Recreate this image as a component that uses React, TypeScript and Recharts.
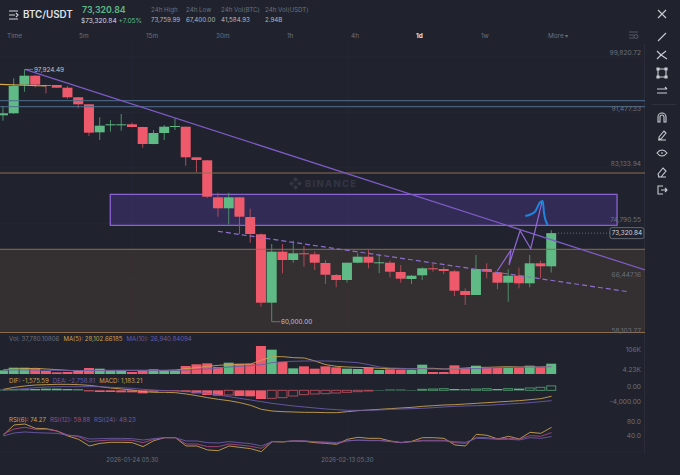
import React from "react"
import {
  Bar,
  CartesianGrid,
  Cell,
  ComposedChart,
  Line,
  ReferenceArea,
  ReferenceDot,
  ReferenceLine,
  XAxis,
  YAxis,
} from "recharts"

// candles, oldest first
const opens = [91029, 91329, 95628, 96980, 95583, 95583, 95177, 93734, 92682, 88473, 89525, 89570, 89676, 89270, 86715, 88368, 89315, 89315, 84716, 84265, 78704, 77050, 78704, 75743, 73143, 62863, 70527, 69280, 70287, 70137, 68829, 67025, 66274, 68875, 69776, 68829, 68875, 67476, 66424, 66981, 68033, 67927, 67582, 64620, 64019, 67927, 67431, 65868, 66920, 65778, 68784, 68333]
const highs = [92426, 96590, 97924.49, 97085, 95628, 95583, 95432, 93779, 92682, 90728, 90322, 91224, 89916, 89315, 88819, 89571, 90578, 89315, 84716, 84310, 79395, 79395, 78704, 76991, 73293, 71685, 71685, 72181, 71384, 70527, 69280, 67176, 68875, 70287, 70783, 70031, 69175, 68528, 67025, 68183, 68784, 68273, 67777, 65026, 70031, 68784, 67522, 67881, 68123, 70031, 69175, 73759.99]
const lows = [90217, 91224, 94575, 95237, 94335, 95132, 93523, 92080, 87917, 87316, 88564, 88714, 89225, 86159, 86670, 87316, 88819, 83454, 82506, 78599, 75788, 74646, 73188, 71880, 62262, 60000, 67281, 68875, 68273, 67777, 65673, 65177, 65868, 68784, 68033, 67281, 66680, 65868, 65673, 66274, 67522, 67176, 63869, 62516, 64019, 66529, 64876, 63013, 65026, 65177, 66529, 67400]
const closes = [91329, 95432, 96980, 95628, 95432, 95177, 93734, 92682, 88413, 89466, 89676, 89676, 89270, 86715, 88368, 89315, 89420, 84716, 84310, 78794, 77050, 78704, 75788, 73188, 62863, 70527, 69280, 70287, 70137, 68875, 67070, 66274, 68875, 69776, 68875, 68934, 67522, 66469, 66920, 68033, 67882, 67627, 64665, 64019, 67927, 67522, 65868, 66920, 65778, 68784, 68333, 73320.84]

const volumes = [13420, 23180, 23180, 20740, 10980, 6100, 7320, 13420, 21960, 19520, 12200, 14640, 7320, 13420, 17080, 13420, 13420, 29280, 35380, 39040, 25620, 41480, 37820, 37820, 102480, 89060, 43920, 20740, 28060, 19520, 28060, 24400, 19520, 18300, 23180, 14640, 17080, 15860, 14640, 34160, 7320, 7320, 31720, 21960, 30500, 21960, 21960, 23180, 23180, 30500, 24400, 37780.1]
const volMa5 = [15860, 18300, 19520, 20740, 18300, 15860, 13420, 10980, 12200, 13420, 13420, 13420, 13420, 13420, 13420, 13420, 14640, 19520, 23180, 28060, 31720, 34160, 35380, 36600, 50020, 63440, 63440, 59780, 58560, 47580, 34160, 28060, 25620, 24400, 23180, 20740, 19520, 19520, 18300, 20740, 20740, 18300, 19520, 21960, 24400, 24400, 25620, 26840, 25620, 25620, 25620, 28102.66]
const volMa10 = [15000, 15000, 14600, 14000, 13500, 13500, 13000, 13000, 12800, 12500, 12500, 12800, 13000, 13000, 13000, 13000, 13420, 14640, 17080, 18300, 21960, 25620, 28060, 30500, 34160, 41480, 45140, 46360, 47580, 47580, 47580, 46360, 43920, 41480, 34160, 25620, 21960, 20740, 19520, 19520, 18300, 18300, 18300, 19520, 19520, 21960, 23180, 24400, 24400, 25620, 25620, 26940.84]

const macdHist = [178, 267, 267, 356, 445, 445, 356, 267, -267, -445, -445, -534, -534, -801, -356, -178, -178, -445, -801, -1246, -1424, -1246, -1513, -1602, -2314, -2136, -1958, -1513, -1157, -979, -890, -712, -534, -356, -178, 89, 178, 178, 89, 267, 356, 445, 356, 267, 356, 445, 356, 445, 445, 623, 801, 1183.21]
const macdHollow = [21, 25, 26, 27, 28, 29, 30, 31, 32, 33, 34, 39, 40, 41, 44, 45, 47, 49, 50, 51]
const dif = [267, 801, 1157, 1424, 1513, 1602, 1602, 1513, 1335, 979, 623, 356, 89, -356, -534, -534, -623, -979, -1424, -1958, -2403, -2759, -3293, -4005, -5073, -5518, -5696, -5785, -5874, -5874, -5963, -5963, -5696, -5429, -5251, -5073, -4895, -4717, -4539, -4272, -4094, -3916, -3827, -3649, -3471, -3293, -3115, -2937, -2759, -2492, -2225, -1575.59]
const dea = [89, 267, 445, 712, 890, 979, 979, 979, 979, 979, 801, 712, 534, 267, 89, -89, -178, -356, -534, -801, -1246, -1691, -2136, -2581, -3026, -3471, -3827, -4183, -4450, -4717, -4984, -5162, -5340, -5340, -5340, -5251, -5073, -4984, -4895, -4806, -4628, -4450, -4272, -4183, -4094, -4005, -3827, -3649, -3471, -3293, -3026, -2758.81]

const rsi6 = [53.4, 80.6, 83.3, 71.5, 70.6, 64.3, 50.7, 41.6, 23.5, 30.7, 33.4, 33.4, 32.5, 21.7, 38, 46.1, 46.1, 23.5, 23.5, 12.6, 10.8, 23.5, 19.8, 16.2, 8, 35.3, 34.4, 37.1, 36.2, 32.5, 30.7, 28, 41.6, 47.1, 44.3, 44.3, 37.1, 32.5, 36.2, 46.1, 46.1, 44.3, 26.2, 23.5, 55.2, 52.5, 42.5, 49.8, 42.5, 60.6, 57.9, 74.27]
const rsi12 = [56.1, 69.7, 74.3, 68.8, 68.8, 64.3, 53.4, 48.9, 35.3, 38, 39.8, 39.8, 38.9, 32.5, 41.6, 46.1, 46.1, 28.9, 28.9, 21.7, 21.7, 28.9, 26.2, 22.6, 17.1, 35.3, 35.3, 37.1, 37.1, 34.4, 32.5, 29.8, 37.1, 39.8, 38.9, 38.9, 35.3, 32.5, 35.3, 38.9, 38.9, 38.9, 32.5, 30.7, 47.1, 46.1, 42.5, 44.3, 41.6, 51.6, 49.8, 59.88]
const rsi24 = [50.7, 58.8, 61.6, 59.8, 58.8, 57.9, 52.5, 50.7, 42.5, 43.4, 44.3, 44.3, 43.4, 39.8, 43.4, 46.1, 46.1, 37.1, 37.1, 32.5, 31.6, 35.3, 32.5, 29.8, 23.5, 35.3, 35.3, 37.1, 37.1, 35.3, 34.4, 32.5, 38, 38.9, 38, 38, 36.2, 33.4, 35.3, 37.1, 37.1, 37.1, 35.3, 33.4, 44.3, 43.4, 41.6, 41.6, 39.8, 46.1, 44.3, 49.23]

const priceTicks = [99820.72, 91477.33, 83133.94, 74790.55, 66447.16, 58103.77]
const volTicks = [106000, 4230]
const macdTicks = [0, -4000]
const rsiTicks = [80, 40]
const timeTicks = [12, 32]
const timeLabels = ["2026-01-24 05:30", "2026-02-13 05:30"]
const intervals = [["Time", 7], ["5m", 79], ["15m", 146], ["30m", 216], ["1h", 287], ["4h", 351], ["1d", 416], ["1w", 481]] as const
const stats = [["24h High", "73,759.99", 151], ["24h Low", "67,400.00", 186], ["24h Vol(BTC)", "41,584.93", 221], ["24h Vol(USDT)", "2.94B", 265]] as const

const lastPrice = 73320.84
const trendMain = [{ x: 2, y: 97924.49 }, { x: 59.69, y: 67777 }]
const trendDashed = [{ x: 19.97, y: 73594 }, { x: 58.06, y: 64531 }]
const goldLine = [{ x: -0.31, y: 95688 }, { x: 3.97, y: 95432 }]
const orangeLevels = [82356, 70889, 58383]
const blueLevels = [93223, 92321]
const zigzag = [
  { i: 45.95, y: 67627 }, { i: 47.23, y: 70783 }, { i: 47.04, y: 68529 },
  { i: 48.07, y: 73684 }, { i: 49.06, y: 70979 }, { i: 50.11, y: 78042 },
]
const arrow = [
  { i: 48.56, y: 75893 }, { i: 49.46, y: 76540 }, { i: 49.93, y: 77952 },
  { i: 50.18, y: 78148 }, { i: 50.3, y: 76299 }, { i: 50.64, y: 74540 },
]

const rows = opens.map((o, i) => ({
  i,
  open: o,
  close: closes[i],
  range: [lows[i], highs[i]],
  vol: volumes[i],
  ma5: volMa5[i],
  ma10: volMa10[i],
  hist: macdHist[i],
  hollow: macdHollow.includes(i),
  dif: dif[i],
  dea: dea[i],
  rsi6: rsi6[i],
  rsi12: rsi12[i],
  rsi24: rsi24[i],
}))

const GREEN = "#5fba85"
const RED = "#ee5a6b"
const BG = "#20232e"
const MUTED = "#6c707d"
const GOLD = "#c9a24f"
const PURPLE = "#6a5aa8"
const PINK = "#a8487f"
const FONT = "Inter, Roboto, sans-serif"

const xDomain: [number, number] = [-0.31, 59.69]
const priceDomain: [number, number] = [58008, 101745]
const chartW = 645

function Candle(props: any) {
  const { x, y, width, height, payload } = props
  const [lo, hi] = payload.range
  const at = (p: number) => y + ((hi - p) / (hi - lo)) * height
  const up = payload.close >= payload.open
  const top = at(Math.max(payload.open, payload.close))
  const bottom = at(Math.min(payload.open, payload.close))
  const mid = x + width / 2
  return (
    <g>
      <line x1={mid} x2={mid} y1={y} y2={y + height} stroke={up ? "#4c8f6a" : "#b04a58"} strokeWidth={1} />
      <rect x={x} y={top} width={width} height={Math.max(bottom - top, 1)} fill={up ? GREEN : RED} />
    </g>
  )
}

function MacdBar(props: any) {
  const { x, y, width, height, payload } = props
  const up = payload.hist >= 0
  const top = Math.min(y, y + height)
  const h = Math.abs(height)
  const color = up ? GREEN : RED
  if (payload.hollow) {
    return <rect x={x + 0.5} y={top} width={width - 1} height={h} fill={BG} stroke={up ? "#4c8f6a" : "#a84a58"} strokeWidth={1} />
  }
  return <rect x={x} y={top} width={width} height={h} fill={color} />
}

function AxisTick(props: any) {
  const { y, payload, format, shift } = props
  const dy = shift ? shift(payload.value) : -3.5
  return (
    <text x={641} y={y + dy} textAnchor="end" dominantBaseline="central" fontSize={6.6} fill={MUTED} fontFamily={FONT}>
      {format(payload.value)}
    </text>
  )
}

function PriceTag(props: any) {
  const { cx, cy } = props
  return (
    <g>
      <rect x={cx} y={cy - 5.5} width={34} height={11} rx={2} fill={BG} stroke="#7d818c" strokeWidth={0.7} />
      <text x={cx + 17} y={cy} textAnchor="middle" dominantBaseline="central" fontSize={6.4} fill="#d6d8de" fontFamily={FONT}>
        {lastPrice.toLocaleString("en-US", { minimumFractionDigits: 2 })}
      </text>
    </g>
  )
}

const fmtPrice = (v: number) => v.toLocaleString("en-US", { minimumFractionDigits: 2 })
const fmtVol = (v: number) => (v >= 100000 ? `${Math.round(v / 1000)}K` : `${(v / 1000).toFixed(2)}K`)
const fmtFixed2 = (v: number) => v.toLocaleString("en-US", { minimumFractionDigits: 2 })
const fmtRsi = (v: number) => v.toFixed(1)
const shiftVol = (v: number) => (v > 50000 ? 4.7 : -3)

const txt = (x: number, y: number, size: number, color: string, weight = 400): React.CSSProperties => ({
  position: "absolute",
  left: x,
  top: y,
  fontSize: size,
  lineHeight: "10px",
  color,
  fontWeight: weight,
  whiteSpace: "nowrap",
})

function ToolIcon({ y, d }: { y: number; d: string }) {
  return (
    <svg style={{ position: "absolute", left: 656, top: y - 6 }} width={12} height={12} viewBox="0 0 12 12">
      <path d={d} fill="none" stroke="#c9ccd3" strokeWidth={1.1} />
    </svg>
  )
}

function Legend({ y, items }: { y: number; items: [string, string][] }) {
  return (
    <div style={{ position: "absolute", left: 9, top: y, fontSize: 6.1, lineHeight: "10px", whiteSpace: "nowrap" }}>
      {items.map(([t, c]) => (
        <span key={t} style={{ color: c, marginRight: 4 }}>{t}</span>
      ))}
    </div>
  )
}

export default function App() {
  return (
    <div style={{ position: "absolute", left: 0, top: 0, width: 680, height: 475, background: BG, overflow: "hidden", fontFamily: FONT }}>
      {/* header */}
      <svg style={{ position: "absolute", left: 8, top: 9 }} width={12} height={12} viewBox="0 0 12 12">
        <path d="M1 2h9M1 6h6M1 10h9M8 4l2 2-2 2" fill="none" stroke="#d5d7dc" strokeWidth={1.1} />
      </svg>
      <div style={txt(23, 10, 9.8, "#dfe1e6", 600)}>BTC/USDT</div>
      <div style={txt(82, 5, 8.8, GREEN, 600)}>73,320.84</div>
      <div style={txt(81, 16, 6.6, "#d8dae0")}>$73,320.84 <span style={{ color: GREEN }}>+7.05%</span></div>
      {stats.map(([label, value, x]) => (
        <React.Fragment key={label}>
          <div style={txt(x, 5, 6.2, MUTED)}>{label}</div>
          <div style={txt(x, 15, 6.2, "#b4b7bf")}>{value}</div>
        </React.Fragment>
      ))}
      {intervals.map(([label, x]) => (
        <div key={label} style={txt(x, 31, 6.4, label === "1d" ? "#e5e6ea" : MUTED, label === "1d" ? 700 : 400)}>{label}</div>
      ))}
      <div style={txt(548, 31, 6.4, MUTED)}>More ▾</div>
      <svg style={{ position: "absolute", left: 629, top: 31 }} width={10} height={9} viewBox="0 0 10 9">
        <path d="M0 1h9M0 4h5M0 7h5" stroke={MUTED} strokeWidth={0.7} />
        <circle cx={7} cy={5.5} r={2} fill="none" stroke={MUTED} strokeWidth={0.7} />
      </svg>

      {/* toolbar */}
      <div style={{ position: "absolute", left: 644, top: 44, width: 1, height: 410, background: "#2a2d39" }} />
      <div style={{ position: "absolute", left: 652, top: 104, width: 24, height: 1, background: "#2e313c" }} />
      <ToolIcon y={14} d="M2 2l8 8M10 2l-8 8" />
      <ToolIcon y={37} d="M2 10L10 2" />
      <ToolIcon y={55} d="M1 2l4 4 6 4M1 10l4-4 5-4" />
      <ToolIcon y={73} d="M2 2h8v8H2zM1 1h2v2H1zM9 1h2v2H9zM1 9h2v2H1zM9 9h2v2H9z" />
      <ToolIcon y={91} d="M1 4h10M3 8h8M9 2l2 2M1 8h2" />
      <ToolIcon y={117} d="M2 11V6a4 4 0 018 0v5H8V6a2 2 0 00-4 0v5z" />
      <ToolIcon y={135} d="M2 11h8M3 8l5-6 2 2-5 6H3z" />
      <ToolIcon y={153} d="M1 6c3-4 7-4 10 0-3 4-7 4-10 0zM5 6h2" />
      <ToolIcon y={172} d="M2 8l5-6 3 3-5 6H3zM2 11h8" />
      <ToolIcon y={190} d="M7 2H2v8h5M5 6h6M9 4l2 2-2 2" />

      {/* price panel */}
      <div style={{ position: "absolute", left: 0, top: 44 }}>
        <ComposedChart width={chartW} height={291} data={rows} margin={{ top: 0, right: 0, bottom: 0, left: 0 }}>
          <CartesianGrid stroke="#272a36" strokeWidth={0.7} verticalValues={timeTicks} horizontalValues={priceTicks} />
          <XAxis dataKey="i" type="number" domain={xDomain} hide allowDataOverflow ticks={timeTicks} />
          <YAxis
            orientation="right"
            mirror
            width={1}
            domain={priceDomain}
            allowDataOverflow
            ticks={priceTicks}
            axisLine={false}
            tickLine={false}
            interval={0}
            tick={<AxisTick format={fmtPrice} />}
          />
          <ReferenceArea x1={xDomain[0]} x2={xDomain[1]} y1={58383} y2={70889} fill="#b07a40" fillOpacity={0.14} stroke="none" />
          <ReferenceArea x1={9.95} x2={57.09} y1={74496} y2={79155} fill="#6a46c8" fillOpacity={0.26} stroke="#8a62d2" strokeWidth={1.3} />
          {orangeLevels.map((v) => (
            <ReferenceLine key={v} y={v} stroke="#8f6c4e" strokeWidth={1} />
          ))}
          {blueLevels.map((v) => (
            <ReferenceLine key={v} y={v} stroke="#4d6f90" strokeWidth={1} />
          ))}
          <Bar dataKey="range" barSize={10} shape={<Candle />} isAnimationActive={false} />
          <ReferenceLine segment={goldLine} stroke="#d8a94a" strokeWidth={1.2} />
          <ReferenceLine segment={trendMain} stroke="#7d5bc4" strokeWidth={1.3} />
          <ReferenceLine segment={trendDashed} stroke="#8d6fd0" strokeWidth={1.2} strokeDasharray="5 3" />
          <ReferenceLine
            segment={[{ x: 2, y: 97924.49 }, { x: 2.76, y: 97924.49 }]}
            stroke="#8b8f99"
            strokeWidth={0.7}
            label={{ value: "97,924.49", position: "right", fill: "#c4c6cd", fontSize: 6.4, dx: -4 }}
          />
          <ReferenceLine
            segment={[{ x: 25, y: 60000 }, { x: 25.74, y: 60000 }]}
            stroke="#8b8f99"
            strokeWidth={0.7}
            label={{ value: "60,000.00", position: "right", fill: "#c4c6cd", fontSize: 6.4, dx: -4 }}
          />
          <ReferenceLine segment={[{ x: 51.6, y: lastPrice }, { x: 56.43, y: lastPrice }]} stroke="#7d818c" strokeWidth={0.8} strokeDasharray="1 2" />
          <ReferenceDot x={56.43} y={lastPrice} shape={<PriceTag />} ifOverflow="visible" />
        </ComposedChart>
      </div>

      {/* hand-drawn markup, in its own chart so its points do not narrow the candles */}
      <div style={{ position: "absolute", left: 0, top: 44 }}>
        <ComposedChart width={chartW} height={291} margin={{ top: 0, right: 0, bottom: 0, left: 0 }}>
          <XAxis dataKey="i" type="number" domain={xDomain} hide allowDataOverflow />
          <YAxis hide domain={priceDomain} allowDataOverflow />
          <Line data={zigzag} dataKey="y" stroke="#9168d8" strokeWidth={1.2} dot={false} isAnimationActive={false} />
          <Line data={arrow} dataKey="y" type="monotone" stroke="#1f86de" strokeWidth={2} dot={false} isAnimationActive={false} />
        </ComposedChart>
      </div>

      {/* watermark */}
      <svg style={{ position: "absolute", left: 289, top: 177 }} width={13} height={13} viewBox="0 0 12 12">
        <path d="M6 0l2.4 2.4L6 4.8 3.6 2.4zM6 7.2l2.4 2.4L6 12 3.6 9.6zM0 6l2.4-2.4L4.8 6 2.4 8.4zM7.2 6l2.4-2.4L12 6 9.6 8.4z" fill="#343743" />
      </svg>
      <div style={{ ...txt(305, 179, 9.5, "#343743", 700), letterSpacing: 1.3 }}>BINANCE</div>

      {/* volume panel */}
      <div style={{ position: "absolute", left: 0, top: 338 }}>
        <ComposedChart width={chartW} height={36} data={rows} margin={{ top: 0, right: 0, bottom: 0, left: 0 }}>
          <XAxis dataKey="i" type="number" domain={xDomain} hide allowDataOverflow ticks={timeTicks} />
          <YAxis
            orientation="right"
            mirror
            width={1}
            domain={[0, 131760]}
            allowDataOverflow
            ticks={volTicks}
            axisLine={false}
            tickLine={false}
            interval={0}
            tick={<AxisTick format={fmtVol} shift={shiftVol} />}
          />
          <Bar dataKey="vol" barSize={10} isAnimationActive={false}>
            {rows.map((r) => (
              <Cell key={r.i} fill={r.close >= r.open ? GREEN : RED} />
            ))}
          </Bar>
          <Line dataKey="ma5" stroke={GOLD} strokeWidth={0.9} dot={false} isAnimationActive={false} />
          <Line dataKey="ma10" stroke={PURPLE} strokeWidth={0.9} dot={false} isAnimationActive={false} />
        </ComposedChart>
      </div>

      {/* macd panel */}
      <div style={{ position: "absolute", left: 0, top: 381 }}>
        <ComposedChart width={chartW} height={34} data={rows} margin={{ top: 0, right: 0, bottom: 0, left: 0 }}>
          <XAxis dataKey="i" type="number" domain={xDomain} hide allowDataOverflow ticks={timeTicks} />
          <YAxis
            orientation="right"
            mirror
            width={1}
            domain={[-6586, 2491]}
            allowDataOverflow
            ticks={macdTicks}
            axisLine={false}
            tickLine={false}
            interval={0}
            tick={<AxisTick format={fmtFixed2} />}
          />
          <Bar dataKey="hist" barSize={10} shape={<MacdBar />} isAnimationActive={false} />
          <Line dataKey="dif" stroke={GOLD} strokeWidth={0.9} dot={false} isAnimationActive={false} />
          <Line dataKey="dea" stroke={PURPLE} strokeWidth={0.9} dot={false} isAnimationActive={false} />
        </ComposedChart>
      </div>

      {/* rsi panel */}
      <div style={{ position: "absolute", left: 0, top: 415 }}>
        <ComposedChart width={chartW} height={50} data={rows} margin={{ top: 0, right: 0, bottom: 0, left: 0 }}>
          <CartesianGrid stroke="#272a36" strokeWidth={0.7} verticalValues={timeTicks} horizontalValues={[7.1]} />
          <XAxis
            dataKey="i"
            type="number"
            domain={xDomain}
            allowDataOverflow
            ticks={timeTicks}
            interval={0}
            height={13}
            axisLine={false}
            tickLine={false}
            tickMargin={0}
            tick={{ fontSize: 6, fill: MUTED, fontFamily: FONT }}
            tickFormatter={(v: number) => timeLabels[timeTicks.indexOf(v)]}
          />
          <YAxis
            orientation="right"
            mirror
            width={1}
            domain={[7.1, 107.8]}
            allowDataOverflow
            ticks={rsiTicks}
            axisLine={false}
            tickLine={false}
            interval={0}
            tick={<AxisTick format={fmtRsi} />}
          />
          <Line dataKey="rsi6" stroke={GOLD} strokeWidth={0.9} dot={false} isAnimationActive={false} />
          <Line dataKey="rsi12" stroke={PINK} strokeWidth={0.9} dot={false} isAnimationActive={false} />
          <Line dataKey="rsi24" stroke={PURPLE} strokeWidth={0.9} dot={false} isAnimationActive={false} />
        </ComposedChart>
      </div>

      <Legend y={334} items={[["Vol: 37,780.10806", MUTED], ["MA(5): 28,102.66185", GOLD], ["MA(10): 26,940.84094", PURPLE]]} />
      <Legend y={375.5} items={[["DIF: -1,575.59", GOLD], ["DEA: -2,758.81", PURPLE], ["MACD: 1,183.21", GOLD]]} />
      <Legend y={414.5} items={[["RSI(6): 74.27", GOLD], ["RSI(12): 59.88", PINK], ["RSI(24): 49.23", PURPLE]]} />
    </div>
  )
}
